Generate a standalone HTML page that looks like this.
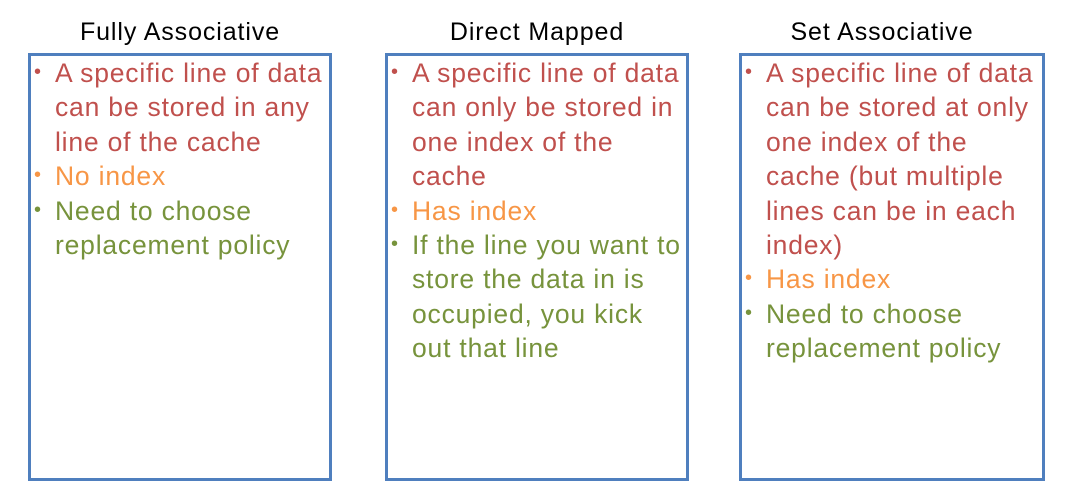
<!DOCTYPE html>
<html><head><meta charset="utf-8"><style>
body{margin:0;width:1072px;height:492px;background:#fff;position:relative;overflow:hidden;font-family:"Liberation Sans",sans-serif}
.t{position:absolute;top:18px;font-size:25px;letter-spacing:0.9px;color:#000;text-align:center;white-space:nowrap}
.box{position:absolute;top:53px;height:422px;border:3px solid #4f7fbe;box-sizing:content-box}
ul{list-style:none;margin:0;padding:0;position:absolute;top:0px;left:0;right:0}
li{position:relative;padding-left:24px;font-size:26.5px;letter-spacing:0.8px;line-height:34.4px;white-space:nowrap}
li:before{content:"•";position:absolute;left:3px;top:-1px;font-size:20px}
.r{color:#c0504d}.o{color:#f79646}.g{color:#77933c}
</style></head><body>
<div class="t" style="left:30px;width:300px">Fully Associative</div>
<div class="t" style="left:387px;width:300px">Direct Mapped</div>
<div class="t" style="left:732px;width:300px">Set Associative</div>
<div class="box" style="left:28px;width:298px"><ul>
<li class="r">A specific line of data<br>can be stored in any<br>line of the cache</li>
<li class="o">No index</li>
<li class="g">Need to choose<br>replacement policy</li></ul></div>
<div class="box" style="left:385px;width:298px"><ul>
<li class="r">A specific line of data<br>can only be stored in<br>one index of the<br>cache</li>
<li class="o">Has index</li>
<li class="g">If the line you want to<br>store the data in is<br>occupied, you kick<br>out that line</li></ul></div>
<div class="box" style="left:739px;width:300px"><ul>
<li class="r">A specific line of data<br>can be stored at only<br>one index of the<br>cache (but multiple<br>lines can be in each<br>index)</li>
<li class="o">Has index</li>
<li class="g">Need to choose<br>replacement policy</li></ul></div>
</body></html>
